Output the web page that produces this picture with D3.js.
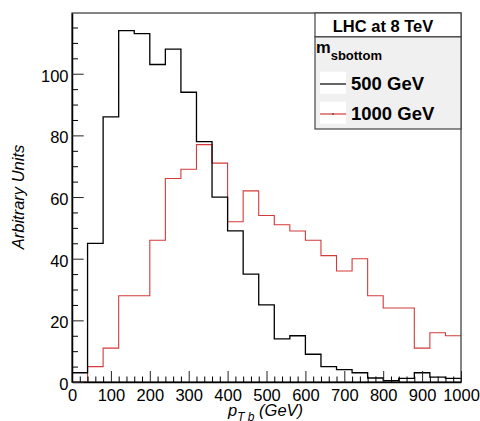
<!DOCTYPE html>
<html>
<head>
<meta charset="utf-8">
<script src="https://cdn.jsdelivr.net/npm/d3@7"></script>
<style>
  body { margin: 0; background: #fff; }
  text { font-family: "Liberation Sans", Arial, Helvetica, sans-serif; }
</style>
</head>
<body>
<script>
// bin edges (GeV) and contents of the two histograms
var binEdges = [0, 40, 80, 120, 160, 200, 240, 280, 320, 360, 400, 440, 480, 520,
  560, 600, 640, 680, 720, 760, 800, 840, 880, 920, 960, 1000]
var sb500 = [3, 45, 86, 114, 113, 103, 108, 94, 78, 60, 49, 35, 25, 14, 15, 9, 5, 4, 3,
  1.3, 0.4, 1.2, 3, 1.6, 1.2]
var sb1000 = [0, 5, 11, 28, 28, 46, 66, 69, 77, 71, 52, 62, 54, 51, 49, 46, 41, 36, 40,
  28, 24, 24, 11, 16, 15]
var xTicks = [0, 100, 200, 300, 400, 500, 600, 700, 800, 900, 1000]
var yTicks = [0, 20, 40, 60, 80, 100]
var legendHeader = 'LHC at 8 TeV'
var seriesNames = ['500 GeV', '1000 GeV']
var seriesColors = ['#000', '#d43a3a']

var margin = {top: 13, right: 19, bottom: 39, left: 72}
var width = 480 - margin.left - margin.right
var height = 421 - margin.top - margin.bottom

var x = d3.scaleLinear().domain([0, 1000]).range([0, width])
var y = d3.scaleLinear().domain([0, 119.7]).range([height, 0])

var root = d3.select('body').append('svg')
  .attr('width', 480)
  .attr('height', 421)
var svg = root.append('g')
  .attr('transform', `translate(${margin.left}, ${margin.top})`)

// histograms
var line = d3.line().curve(d3.curveStepAfter).x(d => x(d[0])).y(d => y(d[1]))
function steps(vals) {
  var pts = vals.map((v, i) => [binEdges[i], v])
  pts.push([binEdges[binEdges.length - 1], vals[vals.length - 1]])
  return pts
}
;[sb1000, sb500].forEach(function (vals, i) {
  svg.append('path')
    .attr('d', line(steps(vals)))
    .attr('fill', 'none')
    .attr('stroke', i === 0 ? seriesColors[1] : seriesColors[0])
    .attr('stroke-width', i === 0 ? 1.1 : 1.3)
})

// frame
svg.append('rect')
  .attr('width', width).attr('height', height)
  .attr('fill', 'none').attr('stroke', '#333').attr('stroke-width', 1.2)

// minor ticks
var xMinor = d3.range(0, 1001, 20).filter(v => v % 100)
var yMinor = d3.range(0, 119, 5).filter(v => v % 20)
svg.append('g')
  .attr('transform', `translate(0, ${height})`)
  .call(d3.axisBottom(x).tickValues(xMinor).tickSizeInner(-5.5).tickSizeOuter(0).tickFormat(''))
  .call(g => g.select('.domain').remove())
svg.append('g')
  .call(d3.axisLeft(y).tickValues(yMinor).tickSizeInner(-6).tickSizeOuter(0).tickFormat(''))
  .call(g => g.select('.domain').remove())

// major axes
var xAxis = svg.append('g')
  .attr('transform', `translate(0, ${height})`)
  .call(d3.axisBottom(x).tickValues(xTicks).tickFormat(d3.format('d'))
    .tickSizeInner(-11).tickSizeOuter(0).tickPadding(7))
var yAxis = svg.append('g')
  .call(d3.axisLeft(y).tickValues(yTicks).tickFormat(d3.format('d'))
    .tickSizeInner(-11.7).tickSizeOuter(0).tickPadding(3.5))
;[xAxis, yAxis].forEach(function (g) {
  g.selectAll('text').attr('font-size', 16.5).attr('fill', '#000')
    .style('font-family', '"Liberation Sans", Arial, sans-serif')
  g.select('.domain').attr('stroke', '#000').attr('stroke-width', 1.5)
  g.selectAll('.tick line').attr('stroke', '#222')
})
yAxis.selectAll('text').attr('dy', '0.45em')

// axis titles
var xt = root.append('text')
  .attr('x', margin.left + width / 2 - 1).attr('y', 415.5)
  .attr('text-anchor', 'middle')
  .attr('font-size', 16.5).attr('font-style', 'italic')
xt.append('tspan').text('p')
xt.append('tspan').attr('font-size', 12).attr('dy', 5).text('T b')
xt.append('tspan').attr('dy', -5).text(' (GeV)')

root.append('text')
  .attr('transform', 'translate(24, 197) rotate(-90)')
  .attr('text-anchor', 'middle')
  .attr('font-size', 16.5).attr('font-style', 'italic')
  .text('Arbitrary Units')

// legend
var lg = root.append('g')
lg.append('rect').attr('x', 315).attr('y', 36.7).attr('width', 146).attr('height', 92.3)
  .attr('fill', '#f0f0f0').attr('stroke', '#444').attr('stroke-width', 1.2)
lg.append('rect').attr('x', 315).attr('y', 13).attr('width', 146).attr('height', 23.7)
  .attr('fill', '#fff').attr('stroke', '#444').attr('stroke-width', 1.2)
lg.append('text').attr('x', 383).attr('y', 32).attr('text-anchor', 'middle')
  .attr('font-size', 16.5).attr('font-weight', 'bold').text(legendHeader)
var mt = lg.append('text').attr('x', 316).attr('y', 53.3)
  .attr('font-size', 16.5).attr('font-weight', 'bold')
mt.append('tspan').text('m')
mt.append('tspan').attr('font-size', 13).attr('dy', 7).text('sbottom')

seriesNames.forEach(function (name, i) {
  var top = 71.7 + i * 30
  lg.append('rect').attr('x', 320).attr('y', top).attr('width', 26).attr('height', 22)
    .attr('fill', '#fff')
  lg.append('line').attr('x1', 320).attr('x2', 346)
    .attr('y1', top + 12.3).attr('y2', top + 12.3)
    .attr('stroke', seriesColors[i]).attr('stroke-width', 1.2)
  if (i === 1) {
    lg.append('line').attr('x1', 333).attr('x2', 333)
      .attr('y1', top + 11.3).attr('y2', top + 13.3)
      .attr('stroke', '#333').attr('stroke-width', 1)
  }
  lg.append('text').attr('x', 351).attr('y', top + 18.5)
    .attr('font-size', 18.5).attr('font-weight', 'bold').text(name)
})
</script>
</body>
</html>
